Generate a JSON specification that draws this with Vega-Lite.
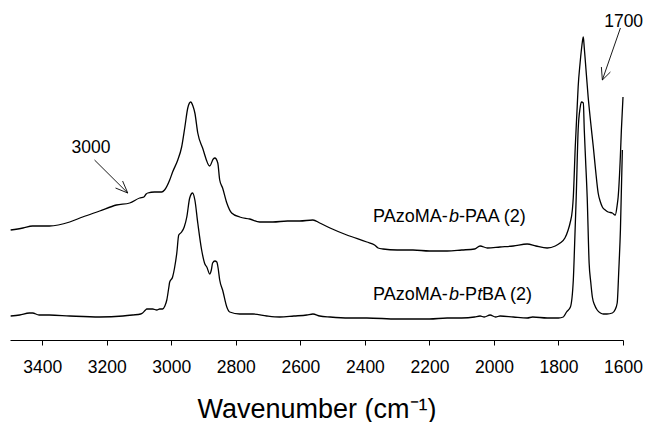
{
  "$schema": "https://vega.github.io/schema/vega-lite/v6.json",
  "width": 613,
  "height": 340,
  "autosize": {"type": "none"},
  "padding": {"left": 10, "top": 0, "right": 22, "bottom": 82},
  "background": "white",
  "config": {
    "view": {"stroke": null},
    "font": "Liberation Sans",
    "axis": {"grid": false}
  },
  "datasets": {
    "spectra": [
      {"s":"PAA","wn":3498,"a":110},{"s":"PAA","wn":3460,"a":112},{"s":"PAA","wn":3430,"a":114},{"s":"PAA","wn":3378,"a":114},
      {"s":"PAA","wn":3315,"a":118},{"s":"PAA","wn":3275,"a":123},{"s":"PAA","wn":3222,"a":129},{"s":"PAA","wn":3170,"a":135},
      {"s":"PAA","wn":3129,"a":137},{"s":"PAA","wn":3098,"a":142},{"s":"PAA","wn":3085,"a":143},{"s":"PAA","wn":3078,"a":146},
      {"s":"PAA","wn":3073,"a":147},{"s":"PAA","wn":3052,"a":148},{"s":"PAA","wn":3030,"a":148},{"s":"PAA","wn":3021,"a":150},
      {"s":"PAA","wn":3005,"a":160},{"s":"PAA","wn":2996,"a":168},{"s":"PAA","wn":2980,"a":180},{"s":"PAA","wn":2968,"a":193},
      {"s":"PAA","wn":2958,"a":213},{"s":"PAA","wn":2949,"a":232},{"s":"PAA","wn":2940,"a":238},{"s":"PAA","wn":2933,"a":234},
      {"s":"PAA","wn":2927,"a":227},{"s":"PAA","wn":2918,"a":207},{"s":"PAA","wn":2903,"a":192},{"s":"PAA","wn":2881,"a":174},
      {"s":"PAA","wn":2870,"a":181},{"s":"PAA","wn":2865,"a":182},{"s":"PAA","wn":2856,"a":177},{"s":"PAA","wn":2850,"a":160},
      {"s":"PAA","wn":2841,"a":152},{"s":"PAA","wn":2828,"a":137},{"s":"PAA","wn":2813,"a":127},{"s":"PAA","wn":2788,"a":123},
      {"s":"PAA","wn":2757,"a":121},{"s":"PAA","wn":2726,"a":118},{"s":"PAA","wn":2685,"a":118},{"s":"PAA","wn":2640,"a":119},
      {"s":"PAA","wn":2602,"a":119},{"s":"PAA","wn":2561,"a":120},{"s":"PAA","wn":2540,"a":117},{"s":"PAA","wn":2508,"a":112},
      {"s":"PAA","wn":2456,"a":105},{"s":"PAA","wn":2394,"a":98},{"s":"PAA","wn":2370,"a":95},{"s":"PAA","wn":2359,"a":92},
      {"s":"PAA","wn":2344,"a":91},{"s":"PAA","wn":2300,"a":90},{"s":"PAA","wn":2251,"a":90},{"s":"PAA","wn":2200,"a":89},
      {"s":"PAA","wn":2145,"a":89},{"s":"PAA","wn":2100,"a":90},{"s":"PAA","wn":2060,"a":91},{"s":"PAA","wn":2043,"a":94},
      {"s":"PAA","wn":2020,"a":92},{"s":"PAA","wn":1981,"a":93},{"s":"PAA","wn":1940,"a":94},{"s":"PAA","wn":1897,"a":96},
      {"s":"PAA","wn":1870,"a":94},{"s":"PAA","wn":1835,"a":92},{"s":"PAA","wn":1810,"a":94},{"s":"PAA","wn":1795,"a":97},
      {"s":"PAA","wn":1780,"a":102},{"s":"PAA","wn":1770,"a":110},{"s":"PAA","wn":1764,"a":117},{"s":"PAA","wn":1757,"a":130},
      {"s":"PAA","wn":1754,"a":143},{"s":"PAA","wn":1748,"a":193},{"s":"PAA","wn":1742,"a":233},{"s":"PAA","wn":1739,"a":253},
      {"s":"PAA","wn":1733,"a":277},{"s":"PAA","wn":1729,"a":290},{"s":"PAA","wn":1726,"a":298},{"s":"PAA","wn":1723,"a":303},
      {"s":"PAA","wn":1720,"a":292},{"s":"PAA","wn":1717,"a":280},{"s":"PAA","wn":1708,"a":243},{"s":"PAA","wn":1700,"a":217},
      {"s":"PAA","wn":1692,"a":193},{"s":"PAA","wn":1685,"a":170},{"s":"PAA","wn":1677,"a":147},{"s":"PAA","wn":1670,"a":138},
      {"s":"PAA","wn":1664,"a":133},{"s":"PAA","wn":1655,"a":130},{"s":"PAA","wn":1646,"a":128},{"s":"PAA","wn":1633,"a":127},
      {"s":"PAA","wn":1624,"a":125},{"s":"PAA","wn":1618,"a":135},{"s":"PAA","wn":1615,"a":143},{"s":"PAA","wn":1608,"a":185},
      {"s":"PAA","wn":1605,"a":210},{"s":"PAA","wn":1600,"a":243},

      {"s":"PtBA","wn":3498,"a":24},{"s":"PtBA","wn":3470,"a":25},{"s":"PtBA","wn":3440,"a":27},{"s":"PtBA","wn":3430,"a":27},
      {"s":"PtBA","wn":3410,"a":25},{"s":"PtBA","wn":3378,"a":25},{"s":"PtBA","wn":3315,"a":24},{"s":"PtBA","wn":3222,"a":23},
      {"s":"PtBA","wn":3150,"a":24},{"s":"PtBA","wn":3120,"a":25},{"s":"PtBA","wn":3095,"a":26},{"s":"PtBA","wn":3089,"a":27},
      {"s":"PtBA","wn":3080,"a":30},{"s":"PtBA","wn":3076,"a":31},{"s":"PtBA","wn":3058,"a":31},{"s":"PtBA","wn":3045,"a":30},
      {"s":"PtBA","wn":3036,"a":31},{"s":"PtBA","wn":3027,"a":31},{"s":"PtBA","wn":3020,"a":34},{"s":"PtBA","wn":3014,"a":40},
      {"s":"PtBA","wn":3008,"a":52},{"s":"PtBA","wn":3005,"a":58},{"s":"PtBA","wn":2996,"a":63},{"s":"PtBA","wn":2990,"a":72},
      {"s":"PtBA","wn":2983,"a":87},{"s":"PtBA","wn":2977,"a":105},{"s":"PtBA","wn":2968,"a":108},{"s":"PtBA","wn":2960,"a":113},
      {"s":"PtBA","wn":2952,"a":123},{"s":"PtBA","wn":2943,"a":142},{"s":"PtBA","wn":2934,"a":147},{"s":"PtBA","wn":2927,"a":140},
      {"s":"PtBA","wn":2918,"a":117},{"s":"PtBA","wn":2906,"a":90},{"s":"PtBA","wn":2896,"a":76},{"s":"PtBA","wn":2890,"a":73},
      {"s":"PtBA","wn":2881,"a":66},{"s":"PtBA","wn":2876,"a":70},{"s":"PtBA","wn":2872,"a":77},{"s":"PtBA","wn":2865,"a":79},
      {"s":"PtBA","wn":2859,"a":78},{"s":"PtBA","wn":2855,"a":72},{"s":"PtBA","wn":2850,"a":60},{"s":"PtBA","wn":2841,"a":50},
      {"s":"PtBA","wn":2828,"a":33},{"s":"PtBA","wn":2819,"a":28},{"s":"PtBA","wn":2788,"a":26},{"s":"PtBA","wn":2747,"a":26},
      {"s":"PtBA","wn":2704,"a":24},{"s":"PtBA","wn":2664,"a":23},{"s":"PtBA","wn":2620,"a":24},{"s":"PtBA","wn":2580,"a":25},
      {"s":"PtBA","wn":2561,"a":26},{"s":"PtBA","wn":2540,"a":24},{"s":"PtBA","wn":2508,"a":23},{"s":"PtBA","wn":2450,"a":22},
      {"s":"PtBA","wn":2394,"a":22},{"s":"PtBA","wn":2300,"a":21},{"s":"PtBA","wn":2251,"a":21},{"s":"PtBA","wn":2200,"a":21},
      {"s":"PtBA","wn":2145,"a":22},{"s":"PtBA","wn":2100,"a":22},{"s":"PtBA","wn":2060,"a":23},{"s":"PtBA","wn":2043,"a":24},
      {"s":"PtBA","wn":2030,"a":23},{"s":"PtBA","wn":2012,"a":25},{"s":"PtBA","wn":1995,"a":23},{"s":"PtBA","wn":1981,"a":24},
      {"s":"PtBA","wn":1940,"a":23},{"s":"PtBA","wn":1897,"a":22},{"s":"PtBA","wn":1880,"a":23},{"s":"PtBA","wn":1835,"a":22},
      {"s":"PtBA","wn":1800,"a":22},{"s":"PtBA","wn":1785,"a":23},{"s":"PtBA","wn":1775,"a":28},{"s":"PtBA","wn":1763,"a":33},
      {"s":"PtBA","wn":1754,"a":60},{"s":"PtBA","wn":1750,"a":95},{"s":"PtBA","wn":1745,"a":143},{"s":"PtBA","wn":1739,"a":210},
      {"s":"PtBA","wn":1733,"a":232},{"s":"PtBA","wn":1729,"a":238},{"s":"PtBA","wn":1723,"a":237},{"s":"PtBA","wn":1720,"a":210},
      {"s":"PtBA","wn":1716,"a":180},{"s":"PtBA","wn":1711,"a":143},{"s":"PtBA","wn":1705,"a":77},{"s":"PtBA","wn":1700,"a":58},
      {"s":"PtBA","wn":1695,"a":43},{"s":"PtBA","wn":1688,"a":35},{"s":"PtBA","wn":1680,"a":30},{"s":"PtBA","wn":1670,"a":27},
      {"s":"PtBA","wn":1661,"a":26},{"s":"PtBA","wn":1650,"a":26},{"s":"PtBA","wn":1633,"a":27},{"s":"PtBA","wn":1625,"a":30},
      {"s":"PtBA","wn":1618,"a":37},{"s":"PtBA","wn":1613,"a":70},{"s":"PtBA","wn":1608,"a":110},{"s":"PtBA","wn":1602,"a":190}
    ],
    "labels": [
      {"wn":2375,"a":118,"t":"PAzoMA-","it":false},
      {"wn":2139,"a":118,"t":"b","it":true},
      {"wn":2108,"a":118,"t":"-PAA (2)","it":false},
      {"wn":2375,"a":40,"t":"PAzoMA-","it":false},
      {"wn":2139,"a":40,"t":"b","it":true},
      {"wn":2108,"a":40,"t":"-P","it":false},
      {"wn":2052,"a":40,"t":"t","it":true},
      {"wn":2037,"a":40,"t":"BA (2)","it":false}
    ],
    "notes": [
      {"wn":3249,"a":187,"t":"3000"},
      {"wn":1598,"a":313,"t":"1700"}
    ],
    "arrows": [
      {"wn":3238,"a":180,"wn2":3135,"a2":147},
      {"wn":3173,"a":152,"wn2":3135,"a2":147},
      {"wn":3151,"a":159,"wn2":3135,"a2":147},
      {"wn":1608,"a":312,"wn2":1664,"a2":260},
      {"wn":1667,"a":273,"wn2":1664,"a2":260},
      {"wn":1639,"a":268,"wn2":1664,"a2":260}
    ]
  },
  "encoding": {
    "x": {
      "field": "wn", "type": "quantitative",
      "scale": {"domain": [3500, 1600], "nice": false, "zero": false},
      "axis": {
        "title": "Wavenumber (cm⁻¹)",
        "values": [3400, 3200, 3000, 2800, 2600, 2400, 2200, 2000, 1800, 1600],
        "format": "d",
        "domainColor": "black", "domainWidth": 1,
        "tickColor": "black", "tickSize": 5, "tickWidth": 1,
        "labelFont": "Liberation Sans", "labelFontSize": 17.5, "labelColor": "black", "labelPadding": 13,
        "labelFlush": false, "labelOverlap": false,
        "titleFont": "Liberation Sans", "titleFontSize": 27, "titleFontWeight": "normal", "titleColor": "black",
        "titleBaseline": "alphabetic", "titleY": 77
      }
    },
    "y": {
      "field": "a", "type": "quantitative",
      "scale": {"domain": [0, 340], "nice": false, "zero": false},
      "axis": null
    }
  },
  "layer": [
    {
      "data": {"name": "spectra"},
      "mark": {"type": "line", "color": "black", "strokeWidth": 1.3, "interpolate": "monotone"},
      "encoding": {"detail": {"field": "s"}}
    },
    {
      "data": {"name": "arrows"},
      "mark": {"type": "rule", "color": "black", "strokeWidth": 0.9},
      "encoding": {
        "x2": {"field": "wn2"},
        "y2": {"field": "a2"}
      }
    },
    {
      "data": {"name": "labels"},
      "transform": [{"filter": "!datum.it"}],
      "mark": {"type": "text", "align": "left", "baseline": "alphabetic", "font": "Liberation Sans", "fontSize": 18, "color": "black"},
      "encoding": {"text": {"field": "t"}}
    },
    {
      "data": {"name": "labels"},
      "transform": [{"filter": "datum.it"}],
      "mark": {"type": "text", "align": "left", "baseline": "alphabetic", "font": "Liberation Sans", "fontSize": 18, "fontStyle": "italic", "color": "black"},
      "encoding": {"text": {"field": "t"}}
    },
    {
      "data": {"name": "notes"},
      "mark": {"type": "text", "align": "center", "baseline": "alphabetic", "font": "Liberation Sans", "fontSize": 17.5, "color": "black"},
      "encoding": {"text": {"field": "t"}}
    }
  ]
}
